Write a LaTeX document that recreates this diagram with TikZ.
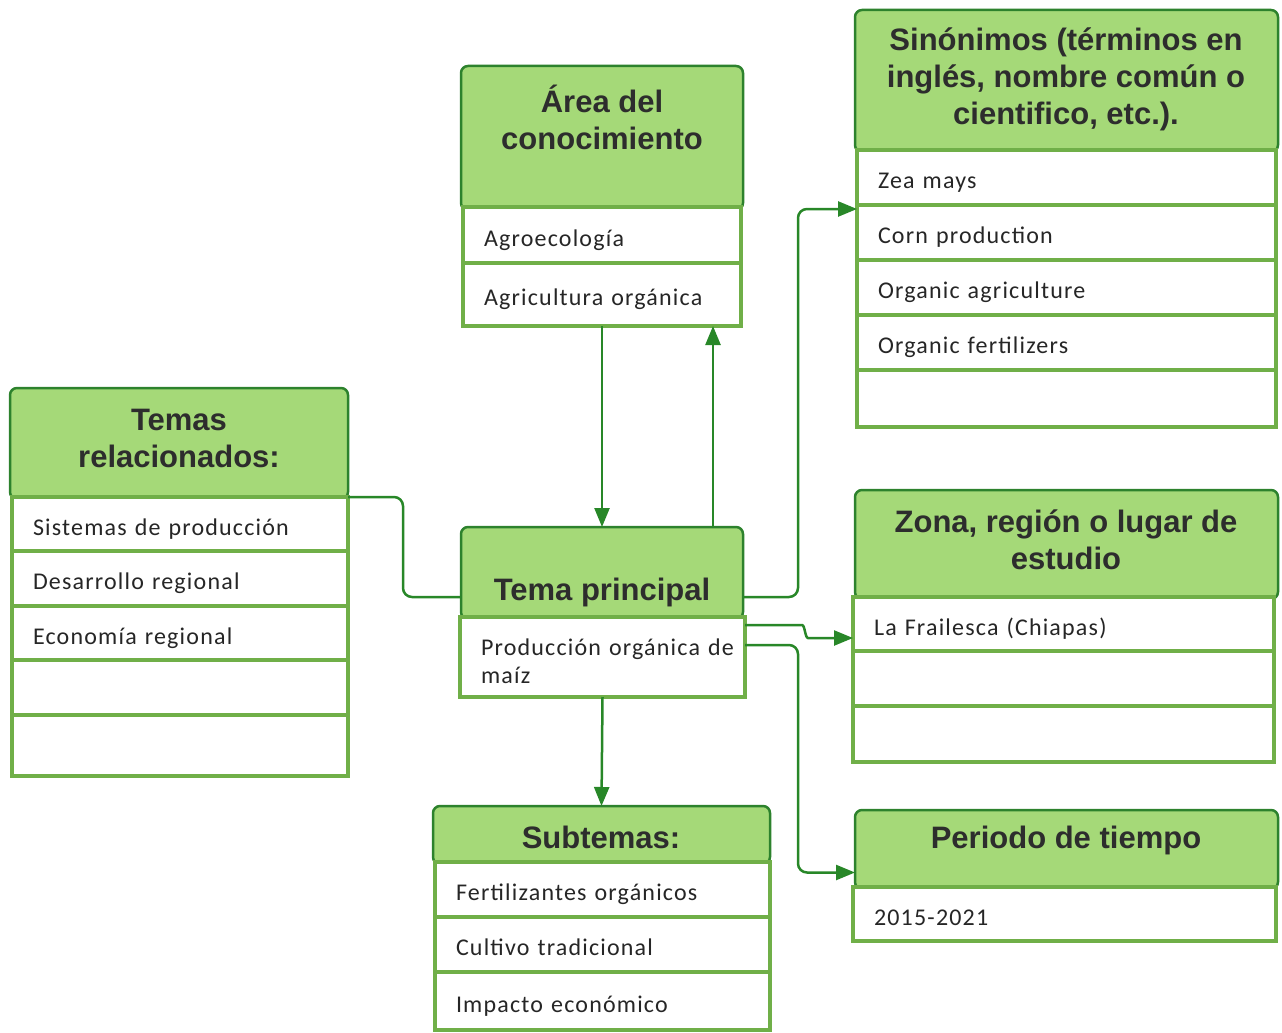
\documentclass[tikz,border=0pt]{standalone}
\usepackage{fontspec}
\setmainfont{Carlito}
\newfontfamily\itemfont[LetterSpace=5]{Carlito}
\newfontfamily\headfont{Liberation Sans}
\usetikzlibrary{arrows.meta}

\definecolor{headgreen}{RGB}{165,217,120}
\definecolor{darkgreen}{RGB}{45,130,45}
\definecolor{itemgreen}{RGB}{112,175,72}
\definecolor{linegreen}{RGB}{40,135,40}
\definecolor{textgray}{RGB}{45,45,45}

\tikzset{
    head/.style={draw=darkgreen, fill=headgreen, line width=2.5pt, rounded corners=7pt,
        anchor=north west, inner sep=0pt, outer sep=0pt},
    headtext/.style={font=\headfont\bfseries\fontsize{31}{37}\selectfont, text=textgray, align=center},
    item/.style={draw=itemgreen, fill=white, line width=4.5pt, anchor=north west,
        inner xsep=21pt, inner ysep=0pt, outer sep=0pt, align=left, text=black!85,
        text height=22pt, text depth=0pt,
        font=\itemfont\fontsize{24}{28}\selectfont},
    conn/.style={draw=linegreen, line width=2.5pt, rounded corners=9pt,
        -{Triangle[length=19pt,width=15pt]}},
    link/.style={draw=linegreen, line width=2.5pt, rounded corners=9pt},
}

\begin{document}
\begin{tikzpicture}[x=1pt, y=-1pt]
    \useasboundingbox (0,0) rectangle (1282,1033);

    % cabeceras
    \node[head, minimum width=282pt, minimum height=144pt] (area) at (461,66) {};
    \node[head, minimum width=423pt, minimum height=142pt] (sin) at (855,10) {};
    \node[head, minimum width=338pt, minimum height=111pt] (rel) at (10,388) {};
    \node[head, minimum width=282pt, minimum height=92pt] (temaH) at (461,527) {};
    \node[head, minimum width=423pt, minimum height=109pt] (zona) at (855,490) {};
    \node[head, minimum width=337pt, minimum height=58pt] (sub) at (433,806) {};
    \node[head, minimum width=423pt, minimum height=79pt] (per) at (855,810) {};

    \node[headtext] (areaT) at (602,117) {Área del\\conocimiento};
    \node[headtext] (sinT) at (1066,79) {Sinónimos (términos en\\inglés, nombre común o\\cientifico, etc.).};
    \node[headtext] (relT) at (179,438) {Temas\\relacionados:};
    \node[headtext] (temaT) at (602,592) {Tema principal};
    \node[headtext] (zonaT) at (1066,540) {Zona, región o lugar de\\estudio};
    \node[headtext] (subT) at (601,837) {Subtemas:};
    \node[headtext] (perT) at (1066,840) {Periodo de tiempo};

    % area del conocimiento
    \node[item, text width=236pt, minimum height=56pt] (area1) at (463,207) {Agroecología};
    \node[item, text width=236pt, minimum height=63pt] (area2) at (463,263) {Agricultura orgánica};

    % sinonimos
    \node[item, text width=377pt, minimum height=55pt] (sin1) at (857,150) {Zea mays};
    \node[item, text width=377pt, minimum height=55pt] (sin2) at (857,205) {Corn production};
    \node[item, text width=377pt, minimum height=55pt] (sin3) at (857,260) {Organic agriculture};
    \node[item, text width=377pt, minimum height=55pt] (sin4) at (857,315) {Organic fertilizers};
    \node[item, text width=377pt, minimum height=57pt] (sin5) at (857,370) {};

    % temas relacionados
    \node[item, text width=294pt, minimum height=54pt] (rel1) at (12,497) {Sistemas de producción};
    \node[item, text width=294pt, minimum height=55pt] (rel2) at (12,551) {Desarrollo regional};
    \node[item, text width=294pt, minimum height=54pt] (rel3) at (12,606) {Economía regional};
    \node[item, text width=294pt, minimum height=55pt] (rel4) at (12,660) {};
    \node[item, text width=294pt, minimum height=61pt] (rel5) at (12,715) {};

    % tema principal
    \node[item, text width=243pt, minimum height=80pt, text height=20pt, text depth=24pt]
        (temaI) at (460,617) {\mbox{Producción orgánica de}\\maíz};

    % zona
    \node[item, text width=379pt, minimum height=54pt] (zona1) at (853,597) {La Frailesca (Chiapas)};
    \node[item, text width=379pt, minimum height=55pt] (zona2) at (853,651) {};
    \node[item, text width=379pt, minimum height=56pt] (zona3) at (853,706) {};

    % subtemas
    \node[item, text width=293pt, minimum height=55pt] (sub1) at (435,862) {Fertilizantes orgánicos};
    \node[item, text width=293pt, minimum height=55pt] (sub2) at (435,917) {Cultivo tradicional};
    \node[item, text width=293pt, minimum height=58pt] (sub3) at (435,972) {Impacto económico};

    % periodo
    \node[item, text width=381pt, minimum height=54pt] (per1) at (853,887) {2015-2021};

    % conectores
    \draw[conn] (area2.south) -- (temaH.north);
    \draw[conn] ([xshift=111pt]temaH.north) -- ([xshift=111pt]area2.south);
    \draw[conn] ([yshift=-24pt]temaH.east) -- ++(55,0) |- ([yshift=-4pt]sin1.south west);
    \draw[conn] ([yshift=-8pt]temaI.north east) -- ++(48,0)
        .. controls +(12,0) and +(-12,0) .. ++(24,13) -- ([yshift=-14pt]zona1.west);
    \draw[conn] ([yshift=-28pt]temaI.north east) -- ++(53,0) |- ([yshift=-23pt]per.west);
    \draw[conn] (temaI.south) -- (sub.north);
    \draw[link] (rel1.north east) -- ++(55,0) |- ([yshift=-24pt]temaH.west);
\end{tikzpicture}
\end{document}
